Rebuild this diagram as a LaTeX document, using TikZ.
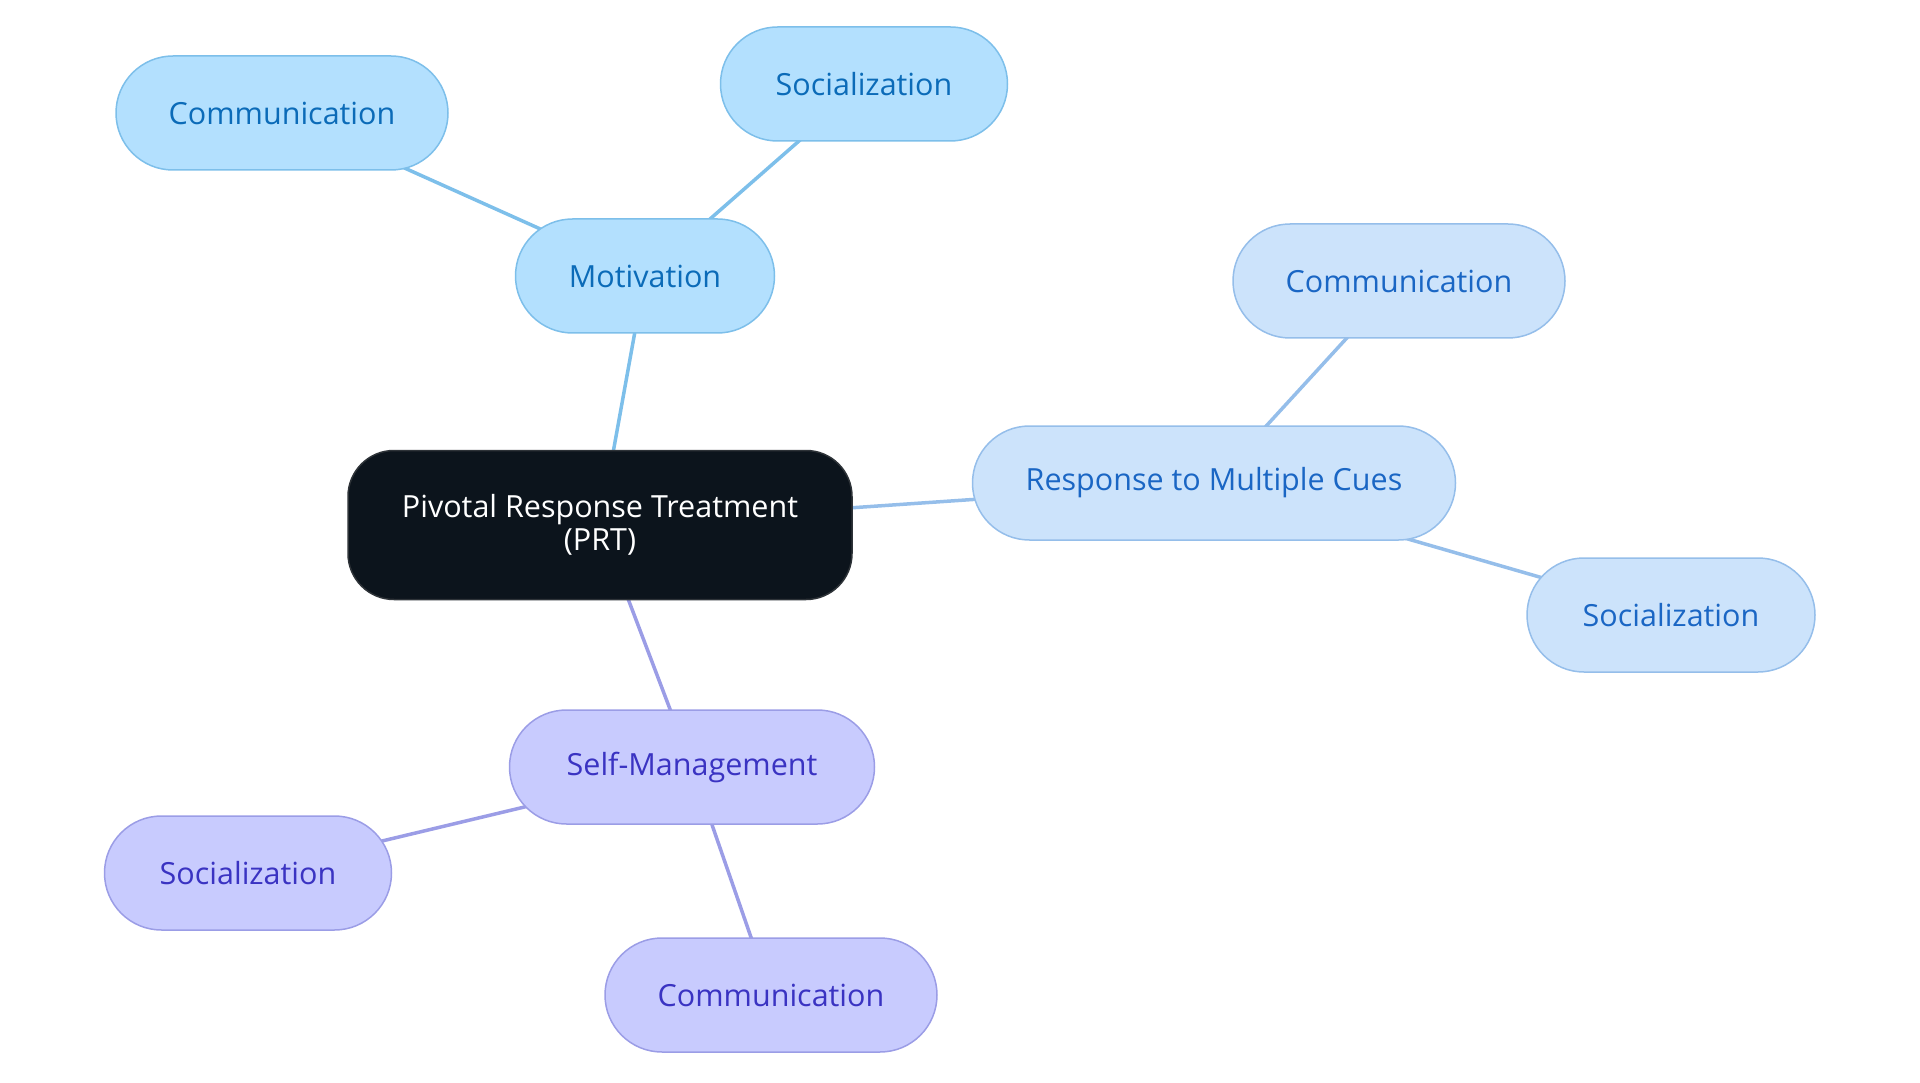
\documentclass[tikz,border=0pt]{standalone}
\usepackage{fontspec}
\setmainfont{Open Sans}
\definecolor{RootFill}{HTML}{0C141C}
\definecolor{RootLine}{HTML}{2E3338}
\definecolor{MotFill}{HTML}{B3E0FE}
\definecolor{MotLine}{HTML}{7DBFEA}
\definecolor{MotText}{HTML}{0B6BB8}
\definecolor{CueFill}{HTML}{CCE3FB}
\definecolor{CueLine}{HTML}{95BEEA}
\definecolor{CueText}{HTML}{1A66C4}
\definecolor{SelfFill}{HTML}{C8CBFE}
\definecolor{SelfLine}{HTML}{9B9DE6}
\definecolor{SelfText}{HTML}{3A33C2}
\usetikzlibrary{backgrounds}
\tikzset{
  topic/.style={rounded corners=57pt,minimum height=114pt,align=center,
    font=\fontsize{30.5}{33}\selectfont,line width=1.5pt,inner sep=0pt},
  mot/.style={topic,draw=MotLine,fill=MotFill,text=MotText},
  cue/.style={topic,draw=CueLine,fill=CueFill,text=CueText},
  self/.style={topic,draw=SelfLine,fill=SelfFill,text=SelfText},
  root/.style={rounded corners=46pt,minimum height=149pt,minimum width=504pt,align=center,
    draw=RootLine,fill=RootFill,text=white,line width=1.5pt,
    font=\fontsize{30.5}{33}\selectfont},
  link/.style={line width=3.5pt}
}
\begin{document}
\begin{tikzpicture}[x=1pt,y=-1pt]
\useasboundingbox (0,0) rectangle (1920,1083);
\node[root] (prt) at (600,525) {Pivotal Response Treatment\\(PRT)};
% motivation branch
\node[mot,minimum width=259pt] (mot) at (645,276) {Motivation};
\node[mot,minimum width=332pt] (motcom) at (282,113) {Communication};
\node[mot,minimum width=287pt] (motsoc) at (864,84) {Socialization};
% multiple cues branch
\node[cue,minimum width=483pt] (cue) at (1214,483) {Response to Multiple Cues};
\node[cue,minimum width=332pt] (cuecom) at (1399,281) {Communication};
\node[cue,minimum width=288pt] (cuesoc) at (1671,615) {Socialization};
% self-management branch
\node[self,minimum width=365pt] (self) at (692,767) {Self-Management};
\node[self,minimum width=287pt] (selfsoc) at (248,873) {Socialization};
\node[self,minimum width=332pt] (selfcom) at (771,995) {Communication};
\begin{scope}[on background layer]
\draw[link,MotLine] (prt.center) -- (mot.center);
\draw[link,MotLine] (mot.center) -- (motcom.center);
\draw[link,MotLine] (mot.center) -- (motsoc.center);
\draw[link,CueLine] (prt.center) -- (cue.center);
\draw[link,CueLine] (cue.center) -- (cuecom.center);
\draw[link,CueLine] (cue.center) -- (cuesoc.center);
\draw[link,SelfLine] (prt.center) -- (self.center);
\draw[link,SelfLine] (self.center) -- (selfsoc.center);
\draw[link,SelfLine] (self.center) -- (selfcom.center);
\end{scope}
\end{tikzpicture}
\end{document}
